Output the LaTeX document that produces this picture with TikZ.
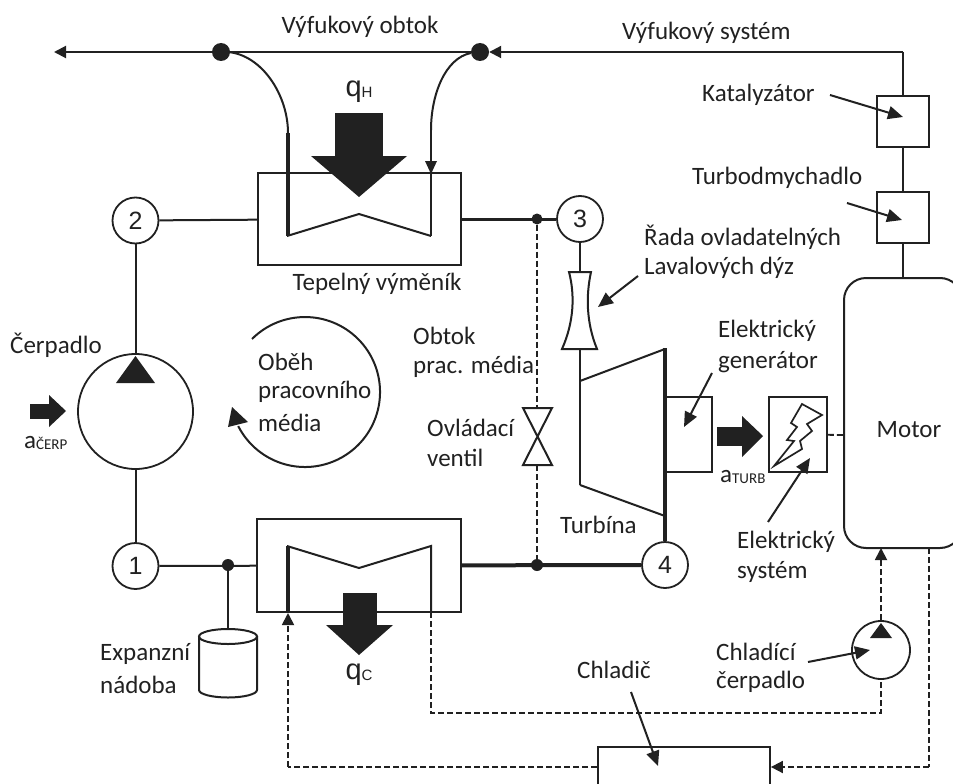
\documentclass[tikz,border=0pt]{standalone}
\usepackage{fontspec}
\setmainfont{Carlito}
\newfontfamily\arialish{Liberation Sans}
\usetikzlibrary{arrows.meta}
\definecolor{ink}{gray}{0.13}
\tikzset{
 lab/.style={inner sep=0pt,font=\fontsize{25}{29}\selectfont,text=ink,anchor=west},
 clab/.style={inner sep=0pt,font=\fontsize{25}{29}\selectfont,text=ink,anchor=center},
 tri/.style={-{Triangle[length=12pt,width=12pt]}},
 ln/.style={line width=2pt,draw=ink},
 thick2/.style={line width=3.6pt,draw=ink},
 dsh/.style={line width=1.8pt,draw=ink,dash pattern=on 6pt off 3pt},
 statecirc/.style={circle,draw=ink,line width=1.8pt,minimum size=46pt,inner sep=0pt,fill=white,font=\arialish\fontsize{25}{28}\selectfont,text=ink},
 junction/.style={circle,fill=ink,inner sep=0pt},
 boxn/.style={draw=ink,line width=1.8pt,inner sep=0pt,fill=white},
 bigarr/.style={fill=ink,draw=none},
 larr/.style={line width=2pt,draw=ink,-{Triangle[length=15pt,width=13pt]}}
}
\begin{document}
\begin{tikzpicture}[x=1pt,y=-1pt]
\useasboundingbox (0,0) rectangle (953,784);
\fill[white] (0,0) rectangle (953,784);
% exhaust line
\node[junction,minimum size=18pt] (jA) at (221,52) {};
\node[junction,minimum size=18pt] (jB) at (480,52) {};
\coordinate (hexTL) at (288,133);
\coordinate (hexTR) at (431,130);
% boxes
\node[boxn,minimum width=203pt,minimum height=92pt] (hot) at (359.5,219) {};
\node[boxn,minimum width=204pt,minimum height=93pt] (cold) at (359,565.5) {};
\node[boxn,minimum width=52pt,minimum height=51pt] (kat) at (903,121.5) {};
\node[boxn,minimum width=52pt,minimum height=51pt] (turbo) at (903,217.5) {};
\draw[ln,rounded corners=22pt] (844,278) rectangle (962,548);
\coordinate (motorT) at (903,278);
\coordinate (motorB1) at (881,548);
\coordinate (motorB2) at (929,548);
\coordinate (motorL) at (844,435);
\node[clab] (motor) at (909,430) {Motor};
\draw[ln] (jA) -- (jB);
\coordinate (outL) at (54,52);
\draw[ln,tri] (jA) -- (outL);
\coordinate (topR) at (903,52);
\draw[ln,tri] (topR) -- (jB);
\draw[ln] (topR) -- (kat);
\draw[ln] (kat) -- (turbo);
\draw[ln] (turbo) -- (motorT);
% hot exchanger inner
\draw[ln] (228,52) .. controls (262,55) and (288,95) .. (hexTL);
\draw[ln] (471,53) .. controls (445,58) and (431,95) .. (hexTR);
\draw[thick2] (hexTL) -- (288,236);
\draw[ln] (287,236) -- (359,214) -- (431,236);
\draw[ln] (hexTR) -- (431,236);
\fill[ink] (431,174) -- (425,161) -- (437,161) -- cycle;
\fill[bigarr] (335,113) rectangle (383,156);
\fill[bigarr] (311,156) -- (407,156) -- (359,197) -- cycle;
\node[clab,font=\arialish\fontsize{29}{30}\selectfont] (qh) at (359,92) {q\raisebox{-1pt}{\fontsize{15}{15}\selectfont H}};
\node[clab] (tv) at (377,284) {Tepelný výměník};
% states
\node[statecirc] (s2) at (135.5,220.5) {2};
\node[statecirc] (s3) at (580,219) {3};
\node[statecirc] (s4) at (665,565) {4};
\node[statecirc] (s1) at (135.5,566) {1};
\draw[ln] (s2) -- (hot);
\draw[line width=3pt,draw=ink] (hot) -- (s3);
\node[junction,minimum size=11pt] (j3) at (537,219) {};
\node[junction,minimum size=12pt] (j4) at (537,565) {};
\draw[line width=4pt,draw=ink] (cold) -- (s4);
\node[junction,minimum size=12pt] (j1) at (228,565) {};
\draw[ln] (s1) -- (cold);
% valve
\coordinate (vT) at (537,408);
\coordinate (vB) at (537,465);
\draw[ln] (523,408) -- (552,408) -- (523,465) -- (552,465) -- cycle;
\draw[dsh] (j3) -- (vT);
\draw[dsh] (vB) -- (j4);
% nozzle
\coordinate (nT) at (580,272);
\coordinate (nB) at (580,349);
\draw[ln] (s3) -- (nT);
\draw[ln,fill=white] (569,272) -- (591,272) .. controls (586,295) and (586,322) .. (597,349) -- (562,349) .. controls (574,322) and (575,295) .. (569,272) -- cycle;
% turbine
\draw[ln] (nB) -- (580,485);
\draw[ln] (580,381) -- (665,349);
\draw[ln] (580,485) -- (665,516);
\node[boxn,minimum width=46pt,minimum height=75pt] (gen) at (689,434.5) {};
\draw[thick2] (665,348) -- (s4);
\node[boxn,minimum width=58pt,minimum height=75pt] (es) at (798,434.5) {};
\draw[dsh] (es) -- (motorL);
\fill[bigarr] (717,427) rectangle (742,446);
\fill[bigarr] (742,416) -- (763,436) -- (742,457) -- cycle;
\draw[line width=1.7pt,draw=ink] (802,404) -- (791,423) -- (797,427) -- (787,440) -- (794,441) -- (774,466) -- (802,449) -- (800,441) -- (812,431) -- (807,424) -- (822,415) -- cycle;
% pump
\node[circle,draw=ink,line width=1.8pt,minimum size=115pt,inner sep=0pt] (pump) at (135.5,411.5) {};
\fill[ink] (135.5,356) -- (155,383) -- (116,383) -- cycle;
\draw[ln] (s2) -- (pump);
\draw[ln] (pump) -- (s1);
\fill[bigarr] (30,404) rectangle (49,419);
\fill[bigarr] (49,395) -- (66,411) -- (49,427) -- cycle;
% cycle
\coordinate (cyS) at (252,339);
\draw[ln] (cyS) arc[start angle=135,end angle=-153,radius=75pt];
\fill[ink] (232,407) -- (228,427) -- (248,422) -- cycle;
% cold exchanger
\draw[thick2] (288,546) -- (288,612);
\draw[ln] (287,546) -- (359,568) -- (431,546) -- (431,612);
\fill[bigarr] (343,593) rectangle (377,625);
\fill[bigarr] (326,625) -- (393,625) -- (359,655) -- cycle;
\node[clab,font=\arialish\fontsize{29}{30}\selectfont] (qc) at (359,675) {q\raisebox{-1pt}{\fontsize{15}{15}\selectfont C}};
% tank
\coordinate (tankT) at (228,629);
\draw[ln] (j1) -- (tankT);
\draw[ln] (199,636) -- (199,690) arc[start angle=180,end angle=360,x radius=29pt,y radius=7.5pt] -- (257,636);
\draw[ln] (228,636.5) ellipse[x radius=29pt,y radius=7.5pt];
% coolant
\node[circle,draw=ink,line width=1.8pt,minimum size=58pt,inner sep=0pt] (cp) at (881,650) {};
\fill[ink] (881,623) -- (892,638) -- (870,638) -- cycle;
\draw[dsh,tri] (cp) -- (motorB1);
\coordinate (c1) at (431,713);
\coordinate (c2) at (881,713);
\draw[dsh] (431,612) -- (c1) -- (c2) -- (cp);
\node[boxn,minimum width=172pt,minimum height=60pt] (chl) at (684,777) {};
\coordinate (c3) at (929,767);
\draw[dsh] (motorB2) -- (c3);
\draw[dsh,tri] (c3) -- (chl.east |- c3);
\coordinate (c4) at (288,767);
\draw[dsh] (chl.west |- c4) -- (c4);
\draw[dsh,tri] (c4) -- (288,613);
% labels
\node[clab] (t1) at (360,27) {Výfukový obtok};
\node[lab] (t2) at (622,33) {Výfukový systém};
\node[lab] (t3) at (702,95) {Katalyzátor};
\node[lab] (t4) at (692,178) {Turbodmychadlo};
\node[lab] (t5) at (644,237) {Řada ovladatelných};
\node[lab] (t6) at (644,268) {Lavalových dýz};
\node[lab] (t7) at (718,331) {Elektrický};
\node[lab] (t8) at (718,362) {generátor};
\node[lab] (t9) at (560,525) {Turbína};
\node[lab] (t10) at (737,542) {Elektrický};
\node[lab] (t11) at (737,572) {systém};
\node[lab] (t12) at (100,654) {Expanzní};
\node[lab] (t13) at (100,685) {nádoba};
\node[lab] (t14) at (577,670) {Chladič};
\node[lab] (t15) at (716,652) {Chladící};
\node[lab] (t16) at (716,682) {čerpadlo};
\node[lab] (t17) at (10,345) {Čerpadlo};
\node[lab] (t18) at (413,336) {Obtok};
\node[lab] (t19) at (413,367) {prac. média};
\node[lab] (t20) at (427,428) {Ovládací};
\node[lab] (t21) at (427,458) {ventil};
\node[lab] (t22) at (258,362) {Oběh};
\node[lab] (t23) at (258,392) {pracovního};
\node[lab] (t24) at (258,423) {média};
\node[lab] (t25) at (24,443) {a\raisebox{-1pt}{\fontsize{15}{15}\selectfont ČERP}};
\node[lab] (t26) at (720,477) {a\raisebox{-1pt}{\fontsize{15}{15}\selectfont TURB}};
% pointers
\draw[larr] (830,95) -- (903,117);
\draw[larr] (847,203) -- (902,220);
\draw[larr] (638,276) -- (598,307);
\draw[larr] (712,373) -- (684,427);
\draw[larr] (768,522) -- (810,458);
\draw[larr] (631,692) -- (658,766);
\draw[larr] (808,662) -- (870,650);
\end{tikzpicture}
\end{document}
